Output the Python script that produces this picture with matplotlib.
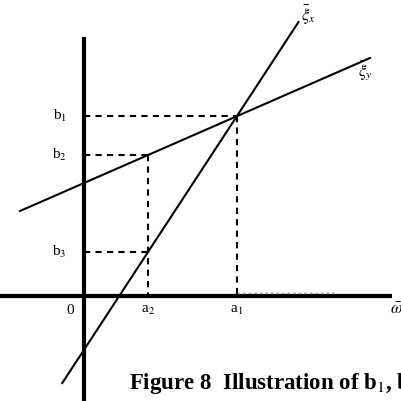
import matplotlib.pyplot as plt
import numpy as np

# line endpoints (x, y) in diagram units, origin at axis crossing
xi_y_x = [-1.28, 5.72]
xi_y_y = [1.70, 4.76]
xi_x_x = [-0.434, 4.29]
xi_x_y = [-1.74, 5.48]

a_vals = [3.06, 1.28]          # a1, a2
b_vals = [3.60, 2.82, 0.88]    # b1, b2, b3
a_labels = ['a$_1$', 'a$_2$']
b_labels = ['b$_1$', 'b$_2$', 'b$_3$']

plt.rcParams['font.family'] = ['Liberation Serif', 'DejaVu Serif']
plt.rcParams['mathtext.fontset'] = 'stix'

fig = plt.figure(figsize=(4.01, 4.01), dpi=100)
ax = fig.add_axes([0, 0, 1, 1])
ax.set_xlim(-1.68, 6.34)
ax.set_ylim(-2.1, 5.92)
ax.axis('off')

# axes
ax.plot([0, 0], [-2.1, 5.18], color='black', lw=3.0, solid_capstyle='butt')
ax.plot([-1.68, 6.16], [0, 0], color='black', lw=3.0, solid_capstyle='butt')

# lines
ax.plot(xi_y_x, xi_y_y, color='black', lw=1.5)
ax.plot(xi_x_x, xi_x_y, color='black', lw=1.5)

dash = dict(color='black', lw=1.5, linestyle=(0, (3, 2.5)))
# b1 / a1 at the intersection
ax.plot([0, a_vals[0]], [b_vals[0], b_vals[0]], **dash)
ax.plot([a_vals[0], a_vals[0]], [b_vals[0], 0], **dash)
# b2 / a2 on xi_y, b3 on xi_x
ax.plot([0, a_vals[1]], [b_vals[1], b_vals[1]], **dash)
ax.plot([a_vals[1], a_vals[1]], [b_vals[1], 0], **dash)
ax.plot([0, a_vals[1]], [b_vals[2], b_vals[2]], **dash)
# faint dashes along the axis past a1
ax.plot([a_vals[0], 5.0], [0.07, 0.07], color='0.6', lw=1.0, linestyle=(0, (2, 2)))

# labels
for b, lab in zip(b_vals, b_labels):
    ax.text(-0.34, b, lab, ha='right', va='center', fontsize=11)
for a, lab in zip(a_vals, a_labels):
    ax.text(a, -0.28, lab, ha='center', va='center', fontsize=11)
ax.text(-0.28, -0.28, '0', ha='center', va='center', fontsize=11)
ax.text(6.12, -0.28, r'$\bar{\omega}$', ha='left', va='center', fontsize=12)
ax.text(4.34, 5.62, r'$\bar{\xi}_x$', ha='left', va='center', fontsize=12)
ax.text(5.48, 4.5, r'$\bar{\xi}_y$', ha='left', va='center', fontsize=12)

ax.text(0.9, -1.76, 'Figure 8  Illustration of b$_1$, b$_2$ and b$_3$',
        ha='left', va='center', fontsize=16.5, fontweight='bold')

fig.savefig('out.png', dpi=100)
